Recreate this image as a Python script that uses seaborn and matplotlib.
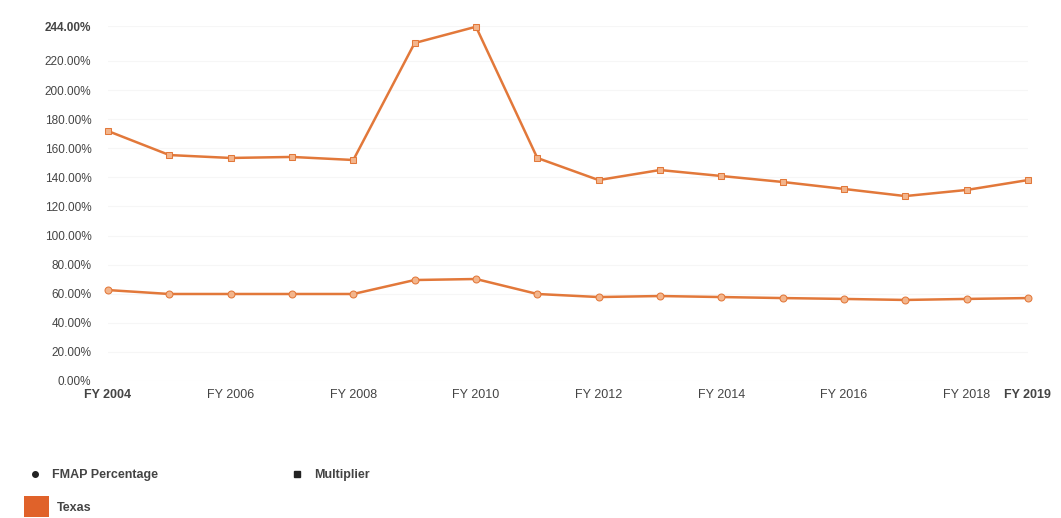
import seaborn as sns
import matplotlib.pyplot as plt
from matplotlib.lines import Line2D
from matplotlib.patches import Patch
import pandas as pd

years = list(range(2004, 2020))
fmap_pct = [62.5, 59.8, 59.8, 59.8, 59.8, 69.4, 70.1, 59.8, 57.7, 58.4, 57.7, 57.0, 56.4, 55.7, 56.4, 57.0]
multiplier = [171.8, 155.3, 153.3, 154.0, 151.9, 232.3, 243.5, 153.3, 138.1, 145.0, 140.9, 136.8, 132.0, 127.1, 131.3, 138.1]
tick_years = [2004, 2006, 2008, 2010, 2012, 2014, 2016, 2018, 2019]
y_ticks = [0, 20, 40, 60, 80, 100, 120, 140, 160, 180, 200, 220, 244]

ORANGE = '#e2783a'
TEXT = '#444444'

sns.set_style('white')
plt.rcParams['font.family'] = ['Liberation Sans', 'DejaVu Sans']

df = pd.DataFrame({'year': years, 'FMAP Percentage': fmap_pct, 'Multiplier': multiplier})

fig = plt.figure(figsize=(10.61, 5.18), dpi=100)
ax = fig.add_axes([0.1018, 0.2645, 0.867, 0.6853])

sns.lineplot(data=df, x='year', y='Multiplier', color=ORANGE, marker='s', markersize=5,
             markerfacecolor='#f3b58c', markeredgecolor=ORANGE, linewidth=1.8, ax=ax, clip_on=False)
sns.lineplot(data=df, x='year', y='FMAP Percentage', color=ORANGE, marker='o', markersize=5,
             markerfacecolor='#f3b58c', markeredgecolor=ORANGE, linewidth=1.8, ax=ax, clip_on=False)

ax.set_xlim(2004, 2019)
ax.set_ylim(0, 244)
ax.set_xticks(tick_years)
ax.set_xticklabels([f'FY {y}' for y in tick_years], fontsize=9, color=TEXT)
ax.set_yticks(y_ticks)
ax.set_yticklabels([f'{v:.2f}%' for v in y_ticks], fontsize=8.5, color=TEXT)
for lbl in [ax.get_xticklabels()[0], ax.get_xticklabels()[-1], ax.get_yticklabels()[-1]]:
    lbl.set_fontweight('bold')
ax.tick_params(axis='both', length=0)
ax.tick_params(axis='y', pad=12)
ax.tick_params(axis='x', pad=6)
ax.set_xlabel('')
ax.set_ylabel('')
for s in ax.spines.values():
    s.set_visible(False)
ax.grid(axis='y', color='#f6f6f6', linewidth=0.8)

handles = [
    Line2D([], [], color='none', marker='o', markerfacecolor='#222222', markeredgecolor='#222222', markersize=4),
    Line2D([], [], color='none', marker='s', markerfacecolor='#222222', markeredgecolor='#222222', markersize=4),
]
leg1 = fig.legend(handles, ['FMAP Percentage', 'Multiplier'], loc='center left', bbox_to_anchor=(0.015, 0.083),
                  ncol=2, frameon=False, columnspacing=10.5, handletextpad=0.8, handlelength=1.2,
                  prop={'weight': 'bold', 'size': 9})
for t in leg1.get_texts():
    t.set_color(TEXT)
leg2 = fig.legend([Patch(facecolor='#e0622a', edgecolor='none')], ['Texas'], loc='center left',
                  bbox_to_anchor=(0.012, 0.022), frameon=False, handlelength=2.0, handleheight=2.2,
                  handletextpad=0.6, prop={'weight': 'bold', 'size': 9})
for t in leg2.get_texts():
    t.set_color(TEXT)

fig.savefig('out.png', dpi=100)
